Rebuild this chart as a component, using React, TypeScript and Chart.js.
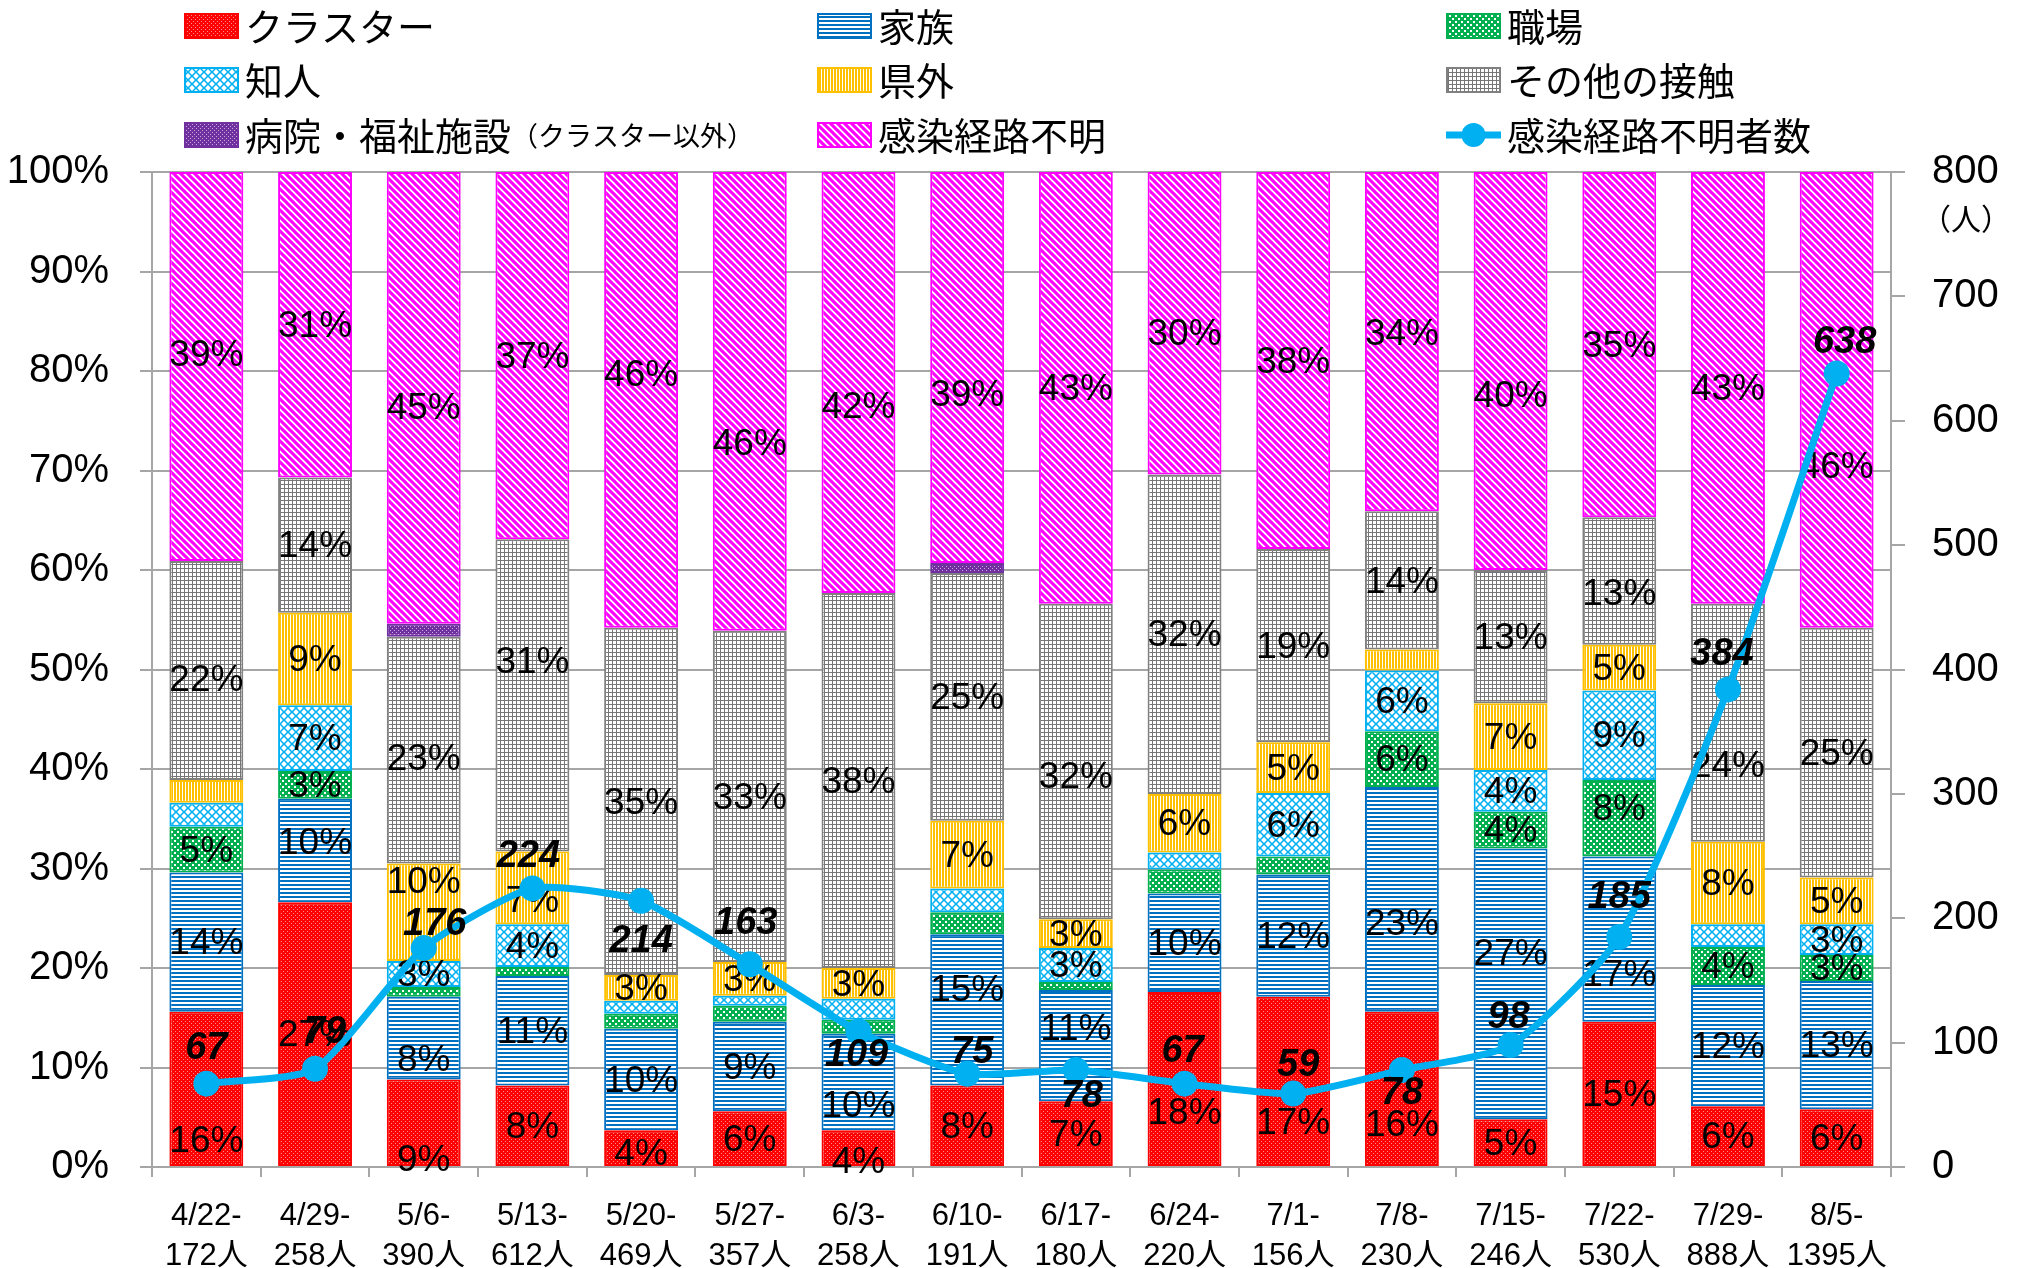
import React, { useEffect, useRef } from 'react';
import { Chart, registerables } from 'chart.js';

Chart.register(...registerables);

// ---------------- data ----------------
const periods = ['4/22-', '4/29-', '5/6-', '5/13-', '5/20-', '5/27-', '6/3-', '6/10-', '6/17-', '6/24-', '7/1-', '7/8-', '7/15-', '7/22-', '7/29-', '8/5-'];
const totals = ['172人', '258人', '390人', '612人', '469人', '357人', '258人', '191人', '180人', '220人', '156人', '230人', '246人', '530人', '888人', '1395人'];

// share of each infection route (%)
const cluster = [15.6, 26.6, 8.8, 8.2, 3.7, 5.6, 3.7, 8.2, 6.6, 17.6, 17.1, 15.6, 4.8, 14.6, 6.1, 5.8];
const family = [14.0, 10.4, 8.3, 11.0, 10.2, 9.0, 9.7, 15.2, 11.2, 9.9, 12.3, 22.6, 27.2, 16.6, 12.2, 12.9];
const workplace = [4.6, 2.8, 1.0, 0.9, 1.5, 1.6, 1.4, 2.2, 0.8, 2.4, 1.8, 5.6, 3.7, 7.7, 3.8, 2.6];
const acquaintance = [2.4, 6.6, 2.6, 4.3, 1.3, 1.0, 2.1, 2.4, 3.4, 1.7, 6.4, 6.1, 4.2, 9.0, 2.3, 3.1];
const outOfPref = [2.3, 9.3, 9.8, 7.3, 2.6, 3.4, 3.1, 6.8, 2.9, 5.9, 5.1, 2.1, 6.7, 4.6, 8.3, 4.7];
const otherContact = [22.0, 13.6, 22.8, 31.4, 34.9, 33.3, 37.7, 24.9, 31.7, 32.1, 19.4, 13.9, 13.4, 12.8, 23.9, 25.1];
const hospital = [0, 0, 1.3, 0, 0, 0, 0, 1.0, 0, 0, 0, 0, 0, 0, 0, 0];
const unknown = [39.1, 30.7, 45.4, 36.9, 45.8, 46.1, 42.3, 39.3, 43.4, 30.4, 37.9, 34.1, 40.0, 34.7, 43.4, 45.8];

// number of people with unknown route (right axis)
const unknownCount = [67, 79, 176, 224, 214, 163, 109, 75, 78, 67, 59, 78, 98, 185, 384, 638];

// ---------------- label placement (layout only) ----------------
// offset (px) of the line value labels from their point
const lineLabelDy = [-35, -36, -24, -32, 41, -41, 24, -21, 27, -32, -28, 24, -28, -39, -35, -31];
const lineLabelDx = [0, 10, 11, -4, 0, -4, -2, 5, 6, -2, 5, 0, -2, 0, -6, 8];
// manual nudges (px) of some percentage labels, keyed by series index then bar index
const barLabelNudge: Record<number, Record<number, number>> = {
  0: { 0: 51, 2: 36, 4: 5, 6: 13, 9: 33, 10: 40, 11: 35 },
  1: { 1: -9, 2: 21, 6: 23, 7: -21, 8: -18, 11: 23, 12: -31, 13: 35 },
  2: { 13: -10 },
  4: { 2: -31, 3: 12 },
  5: { 0: 8, 2: 8, 3: -35, 8: 14, 13: 12, 14: 42 },
  7: { 0: -13, 2: 9, 4: -26, 5: 41, 6: 23, 7: 26, 9: 10, 11: -9, 12: 24, 15: 66 },
};

const FONT = "'Liberation Sans', 'Noto Sans CJK JP', sans-serif";
const CJK = "'Noto Sans CJK JP', 'Noto Sans CJK SC', sans-serif";

type Kind = 'dots' | 'hlines' | 'checker' | 'diamond' | 'vlines' | 'grid' | 'smalldots' | 'diag';

function makePattern(kind: Kind, color: string): CanvasPattern {
  const c = document.createElement('canvas');
  const ctx = c.getContext('2d')!;
  const size = (w: number, h: number) => { c.width = w; c.height = h; };
  switch (kind) {
    case 'dots': {
      size(4, 4);
      ctx.fillStyle = color; ctx.fillRect(0, 0, 4, 4);
      ctx.fillStyle = 'rgba(255,255,255,0.55)';
      ctx.fillRect(1, 1, 1, 1); ctx.fillRect(3, 3, 1, 1);
      break;
    }
    case 'hlines': {
      size(4, 4);
      ctx.fillStyle = '#fff'; ctx.fillRect(0, 0, 4, 4);
      ctx.fillStyle = color; ctx.fillRect(0, 0, 4, 2);
      break;
    }
    case 'checker': {
      size(6, 6);
      ctx.fillStyle = color; ctx.fillRect(0, 0, 6, 6);
      ctx.fillStyle = '#fff';
      ctx.fillRect(0, 0, 2, 2); ctx.fillRect(3, 3, 2, 2);
      break;
    }
    case 'diamond': {
      size(8, 8);
      ctx.fillStyle = color; ctx.fillRect(0, 0, 8, 8);
      ctx.fillStyle = '#fff';
      const d = (cx: number, cy: number, r: number) => {
        ctx.beginPath();
        ctx.moveTo(cx, cy - r); ctx.lineTo(cx + r, cy); ctx.lineTo(cx, cy + r); ctx.lineTo(cx - r, cy);
        ctx.closePath(); ctx.fill();
      };
      d(4, 4, 2.9); d(0, 0, 2.9); d(8, 0, 2.9); d(0, 8, 2.9); d(8, 8, 2.9);
      break;
    }
    case 'vlines': {
      size(3, 3);
      ctx.fillStyle = color; ctx.fillRect(0, 0, 3, 3);
      ctx.fillStyle = '#fff'; ctx.fillRect(2, 0, 1, 3);
      break;
    }
    case 'grid': {
      size(4, 4);
      ctx.fillStyle = '#fff'; ctx.fillRect(0, 0, 4, 4);
      ctx.fillStyle = color; ctx.fillRect(0, 0, 4, 1); ctx.fillRect(0, 0, 1, 4);
      break;
    }
    case 'smalldots': {
      size(4, 4);
      ctx.fillStyle = color; ctx.fillRect(0, 0, 4, 4);
      ctx.fillStyle = 'rgba(255,255,255,0.6)';
      ctx.fillRect(0, 0, 1, 1); ctx.fillRect(2, 2, 1, 1);
      break;
    }
    case 'diag': {
      size(7, 7);
      ctx.fillStyle = '#fff'; ctx.fillRect(0, 0, 7, 7);
      ctx.strokeStyle = color; ctx.lineWidth = 3.1;
      for (const o of [-7, 0, 7]) {
        ctx.beginPath(); ctx.moveTo(o - 1, -1); ctx.lineTo(o + 8, 8); ctx.stroke();
      }
      break;
    }
  }
  return ctx.createPattern(c, 'repeat')!;
}

export default function App() {
  const ref = useRef<HTMLCanvasElement>(null);

  useEffect(() => {
    const canvas = ref.current!;
    const defs: { label: string; data: number[]; color: string; pcolor: string; kind: Kind }[] = [
      { label: 'クラスター', data: cluster, color: '#FF0000', pcolor: '#FF0000', kind: 'dots' },
      { label: '家族', data: family, color: '#0070C0', pcolor: '#0070C0', kind: 'hlines' },
      { label: '職場', data: workplace, color: '#00B050', pcolor: '#00B050', kind: 'checker' },
      { label: '知人', data: acquaintance, color: '#00B0F0', pcolor: '#00B0F0', kind: 'diamond' },
      { label: '県外', data: outOfPref, color: '#FFC000', pcolor: '#FFC000', kind: 'vlines' },
      { label: 'その他の接触', data: otherContact, color: '#808080', pcolor: '#767676', kind: 'grid' },
      { label: '病院・福祉施設（クラスター以外）', data: hospital, color: '#7030A0', pcolor: '#7030A0', kind: 'smalldots' },
      { label: '感染経路不明', data: unknown, color: '#FF00FF', pcolor: '#FF00FF', kind: 'diag' },
    ];
    const patterns = defs.map((d) => makePattern(d.kind, d.pcolor));

    const barLabels = {
      id: 'barLabels',
      afterDatasetDraw(chart: any, args: any) {
        const ds = chart.data.datasets[args.index];
        if (ds.type !== 'bar') return;
        const ctx = chart.ctx;
        const nudge = barLabelNudge[args.index] || {};
        ctx.save();
        ctx.font = `37px ${FONT}`;
        ctx.fillStyle = '#000';
        ctx.textAlign = 'center';
        ctx.textBaseline = 'middle';
        args.meta.data.forEach((el: any, i: number) => {
          const v = ds.data[i] as number;
          if (v >= 2.5) {
            const p = el.getProps(['x', 'y', 'base'], true);
            ctx.fillText(Math.round(v) + '%', p.x, (p.y + p.base) / 2 + 2 + (nudge[i] || 0));
          }
        });
        ctx.restore();
      },
    };

    const lineLabels = {
      id: 'lineLabels',
      afterDatasetsDraw(chart: any) {
        const ctx = chart.ctx;
        chart.data.datasets.forEach((ds: any, di: number) => {
          if (ds.type !== 'line') return;
          const meta = chart.getDatasetMeta(di);
          ctx.save();
          ctx.font = `italic bold 38px ${FONT}`;
          ctx.fillStyle = '#000';
          ctx.textAlign = 'center';
          ctx.textBaseline = 'middle';
          meta.data.forEach((pt: any, i: number) => {
            ctx.fillText(String(ds.data[i]), pt.x + lineLabelDx[i], pt.y + lineLabelDy[i]);
          });
          ctx.restore();
        });
      },
    };

    const legendPlugin = {
      id: 'customLegend',
      afterDraw(chart: any) {
        const ctx = chart.ctx;
        const colX = [184, 817, 1446];
        const rowY = [26, 80, 135];
        ctx.save();
        chart.data.datasets.forEach((ds: any, i: number) => {
          const x = colX[i % 3];
          const y = rowY[Math.floor(i / 3)];
          if (ds.type === 'bar') {
            ctx.fillStyle = ds.backgroundColor;
            ctx.fillRect(x, y - 13, 55, 26);
            ctx.strokeStyle = ds.borderColor;
            ctx.lineWidth = 2;
            ctx.strokeRect(x + 1, y - 12, 53, 24);
          } else {
            ctx.strokeStyle = ds.borderColor;
            ctx.lineWidth = 7;
            ctx.beginPath(); ctx.moveTo(x, y); ctx.lineTo(x + 55, y); ctx.stroke();
            ctx.fillStyle = ds.borderColor;
            ctx.beginPath(); ctx.arc(x + 27.5, y, 12, 0, Math.PI * 2); ctx.fill();
          }
          ctx.fillStyle = '#000';
          ctx.textAlign = 'left';
          ctx.textBaseline = 'middle';
          const label: string = ds.label;
          const k = label.indexOf('（');
          const main = k >= 0 ? label.slice(0, k) : label;
          ctx.font = `38px ${CJK}`;
          ctx.fillText(main, x + 61, y + 1);
          if (k >= 0) {
            const w = ctx.measureText(main).width;
            ctx.font = `27px ${CJK}`;
            ctx.fillText(label.slice(k), x + 61 + w, y + 1);
          }
        });
        // unit of right axis
        ctx.font = `30px ${CJK}`;
        ctx.textAlign = 'center';
        ctx.textBaseline = 'middle';
        const unit = ['（', '人', '）'];
        unit.forEach((ch, j) => ctx.fillText(ch, 1936 + j * 30, 219));
        ctx.restore();
      },
    };

    const gridColor = '#A6A6A6';
    const chart = new Chart(canvas, {
      data: {
        labels: periods.map((p, i) => [p, totals[i]]),
        datasets: [
          ...defs.map((d, i) => ({
            type: 'bar' as const,
            label: d.label,
            data: d.data,
            backgroundColor: patterns[i],
            borderColor: d.color,
            borderWidth: 2,
            borderSkipped: false as const,
            yAxisID: 'y',
            stack: 's',
            order: 1,
            barPercentage: 0.68,
            categoryPercentage: 1,
          })),
          {
            type: 'line' as const,
            label: '感染経路不明者数',
            data: unknownCount,
            yAxisID: 'y1',
            borderColor: '#00B0F0',
            backgroundColor: '#00B0F0',
            borderWidth: 7,
            pointRadius: 13,
            pointBackgroundColor: '#00B0F0',
            pointBorderWidth: 0,
            tension: 0.2,
            order: 0,
          },
        ],
      } as any,
      options: {
        responsive: false,
        animation: false,
        events: [],
        layout: { padding: { top: 172, left: 0, right: 0, bottom: 0 } },
        plugins: { legend: { display: false }, tooltip: { enabled: false } },
        scales: {
          x: {
            stacked: true,
            grid: { display: true, drawOnChartArea: false, drawTicks: true, tickLength: 10, color: gridColor, lineWidth: 2, offset: true },
            border: { display: true, color: gridColor, width: 2 },
            ticks: { color: '#000', font: { family: FONT, size: 31, lineHeight: 1.3 }, padding: 19, maxRotation: 0, autoSkip: false },
            afterFit: (s: any) => { s.height = 101; },
          },
          y: {
            stacked: true,
            min: 0,
            max: 100,
            ticks: { stepSize: 10, callback: (v: any) => v + '%', color: '#000', font: { family: FONT, size: 40 }, padding: 31 },
            grid: { color: gridColor, lineWidth: 2, tickLength: 12 },
            border: { display: true, color: gridColor, width: 2 },
            afterFit: (s: any) => { s.width = 152; },
          },
          y1: {
            position: 'right',
            min: 0,
            max: 800,
            ticks: { stepSize: 100, color: '#000', font: { family: FONT, size: 40 }, padding: 27 },
            grid: { drawOnChartArea: false, tickLength: 14, color: gridColor, lineWidth: 2 },
            border: { display: true, color: gridColor, width: 2 },
            afterFit: (s: any) => { s.width = 126; },
          },
        },
      } as any,
      plugins: [barLabels, lineLabels, legendPlugin],
    });
    return () => chart.destroy();
  }, []);

  return (
    <div style={{ position: 'fixed', left: 0, top: 0, width: 2017, height: 1268, background: '#fff' }}>
      <canvas ref={ref} width={2017} height={1268} style={{ display: 'block' }} />
    </div>
  );
}
